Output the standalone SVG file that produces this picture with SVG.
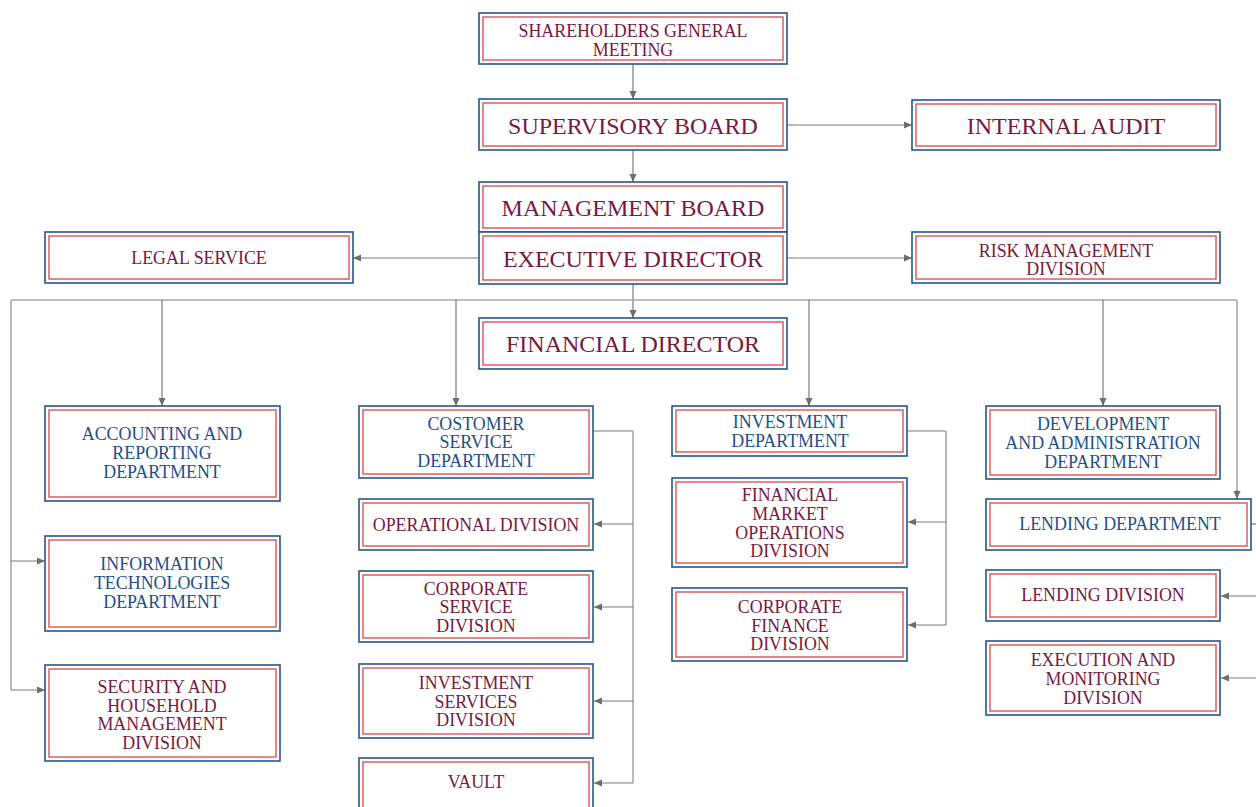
<svg xmlns="http://www.w3.org/2000/svg" width="1256" height="807" viewBox="0 0 1256 807">
<style>
.o{fill:#fff;stroke:#26558f;stroke-width:1.6}
.i{fill:none;stroke:#d9555a;stroke-width:1.4}
.t{font-family:"Liberation Serif","Times New Roman",serif;text-anchor:middle;fill:#7a1840}
.b{fill:#1f4f8a}
.s{font-size:17.9px}
.l{font-size:24px}
.c{fill:none;stroke:#7a7a7a;stroke-width:1.2}
.bus{fill:none;stroke:#a8a8a8;stroke-width:1.6}
</style>
<defs>
<marker id="ar" markerUnits="userSpaceOnUse" markerWidth="9" markerHeight="8" refX="8" refY="4" orient="auto">
<path d="M0,0.5 L8,4 L0,7.5 z" fill="#6e6e6e"/>
</marker>
</defs>
<rect width="1256" height="807" fill="#fff"/>
<g id="connectors">
<path class="c" d="M633,64 V99" marker-end="url(#ar)"/>
<path class="c" d="M633,150 V182" marker-end="url(#ar)"/>
<path class="c" d="M787,125 H912" marker-end="url(#ar)"/>
<path class="c" d="M479,258 H353" marker-end="url(#ar)"/>
<path class="c" d="M787,258 H912" marker-end="url(#ar)"/>
<path class="c" d="M633,284 V318" marker-end="url(#ar)"/>
<path class="bus" d="M11,300 H1237"/>
<path class="bus" d="M11,300 V690"/>
<path class="c" d="M11,561 H45" marker-end="url(#ar)"/>
<path class="c" d="M11,690 H45" marker-end="url(#ar)"/>
<path class="c" d="M162,300 V406" marker-end="url(#ar)"/>
<path class="c" d="M456,300 V406" marker-end="url(#ar)"/>
<path class="c" d="M809,300 V406" marker-end="url(#ar)"/>
<path class="c" d="M1103,300 V406" marker-end="url(#ar)"/>
<path class="bus" d="M1237,300 V492"/>
<path class="c" d="M1237,490 V499" marker-end="url(#ar)"/>
<path class="c" d="M593,431 H633"/>
<path class="bus" d="M633,431 V783"/>
<path class="c" d="M633,524 H594" marker-end="url(#ar)"/>
<path class="c" d="M633,607 H594" marker-end="url(#ar)"/>
<path class="c" d="M633,701 H594" marker-end="url(#ar)"/>
<path class="c" d="M633,783 H594" marker-end="url(#ar)"/>
<path class="c" d="M907,431 H946"/>
<path class="bus" d="M946,431 V625"/>
<path class="c" d="M946,522 H908" marker-end="url(#ar)"/>
<path class="c" d="M946,625 H908" marker-end="url(#ar)"/>
<path class="c" d="M1251,524 H1262"/>
<path class="c" d="M1262,596 H1221" marker-end="url(#ar)"/>
<path class="c" d="M1262,678 H1221" marker-end="url(#ar)"/>
</g>
<g id="shareholders"><rect class="o" x="479" y="13" width="308" height="51"/><rect class="i" x="483" y="17" width="300" height="43"/><text class="t s" x="633" y="37">SHAREHOLDERS GENERAL</text><text class="t s" x="633" y="56">MEETING</text></g>
<g id="supervisory"><rect class="o" x="479" y="99" width="308" height="51"/><rect class="i" x="483" y="103" width="300" height="43"/><text class="t l" x="633" y="134">SUPERVISORY BOARD</text></g>
<g id="audit"><rect class="o" x="912" y="100" width="308" height="50"/><rect class="i" x="916" y="104" width="300" height="42"/><text class="t l" x="1066" y="134">INTERNAL AUDIT</text></g>
<g id="management"><rect class="o" x="479" y="182" width="308" height="50"/><rect class="i" x="483" y="186" width="300" height="42"/><text class="t l" x="633" y="216">MANAGEMENT BOARD</text></g>
<g id="executive"><rect class="o" x="479" y="232" width="308" height="52"/><rect class="i" x="483" y="236" width="300" height="44"/><text class="t l" x="633" y="267">EXECUTIVE DIRECTOR</text></g>
<g id="legal"><rect class="o" x="45" y="232" width="308" height="51"/><rect class="i" x="49" y="236" width="300" height="43"/><text class="t s" x="199" y="264">LEGAL SERVICE</text></g>
<g id="risk"><rect class="o" x="912" y="232" width="308" height="51"/><rect class="i" x="916" y="236" width="300" height="43"/><text class="t s" x="1066" y="257">RISK MANAGEMENT</text><text class="t s" x="1066" y="275">DIVISION</text></g>
<g id="financial"><rect class="o" x="479" y="318" width="308" height="51"/><rect class="i" x="483" y="322" width="300" height="43"/><text class="t l" x="633" y="352">FINANCIAL DIRECTOR</text></g>
<g id="accounting"><rect class="o" x="45" y="406" width="235" height="95"/><rect class="i" x="49" y="410" width="227" height="87"/><text class="t s b" x="162" y="440">ACCOUNTING AND</text><text class="t s b" x="162" y="459">REPORTING</text><text class="t s b" x="162" y="478">DEPARTMENT</text></g>
<g id="it"><rect class="o" x="45" y="536" width="235" height="95"/><rect class="i" x="49" y="540" width="227" height="87"/><text class="t s b" x="162" y="570">INFORMATION</text><text class="t s b" x="162" y="589">TECHNOLOGIES</text><text class="t s b" x="162" y="608">DEPARTMENT</text></g>
<g id="security"><rect class="o" x="45" y="665" width="235" height="96"/><rect class="i" x="49" y="669" width="227" height="88"/><text class="t s" x="162" y="693">SECURITY AND</text><text class="t s" x="162" y="712">HOUSEHOLD</text><text class="t s" x="162" y="730">MANAGEMENT</text><text class="t s" x="162" y="749">DIVISION</text></g>
<g id="customer"><rect class="o" x="359" y="406" width="234" height="72"/><rect class="i" x="363" y="410" width="226" height="64"/><text class="t s b" x="476" y="430">COSTOMER</text><text class="t s b" x="476" y="448">SERVICE</text><text class="t s b" x="476" y="467">DEPARTMENT</text></g>
<g id="operational"><rect class="o" x="359" y="499" width="234" height="51"/><rect class="i" x="363" y="503" width="226" height="43"/><text class="t s" x="476" y="531">OPERATIONAL DIVISION</text></g>
<g id="corpservice"><rect class="o" x="359" y="571" width="234" height="71"/><rect class="i" x="363" y="575" width="226" height="63"/><text class="t s" x="476" y="595">CORPORATE</text><text class="t s" x="476" y="613">SERVICE</text><text class="t s" x="476" y="632">DIVISION</text></g>
<g id="invservices"><rect class="o" x="359" y="664" width="234" height="74"/><rect class="i" x="363" y="668" width="226" height="66"/><text class="t s" x="476" y="689">INVESTMENT</text><text class="t s" x="476" y="708">SERVICES</text><text class="t s" x="476" y="726">DIVISION</text></g>
<g id="vault"><rect class="o" x="359" y="758" width="234" height="62"/><rect class="i" x="363" y="762" width="226" height="54"/><text class="t s" x="476" y="788">VAULT</text></g>
<g id="investment"><rect class="o" x="672" y="406" width="235" height="50"/><rect class="i" x="676" y="410" width="227" height="42"/><text class="t s b" x="790" y="428">INVESTMENT</text><text class="t s b" x="790" y="447">DEPARTMENT</text></g>
<g id="finmarket"><rect class="o" x="672" y="478" width="235" height="89"/><rect class="i" x="676" y="482" width="227" height="81"/><text class="t s" x="790" y="501">FINANCIAL</text><text class="t s" x="790" y="520">MARKET</text><text class="t s" x="790" y="539">OPERATIONS</text><text class="t s" x="790" y="557">DIVISION</text></g>
<g id="corpfinance"><rect class="o" x="672" y="588" width="235" height="73"/><rect class="i" x="676" y="592" width="227" height="65"/><text class="t s" x="790" y="613">CORPORATE</text><text class="t s" x="790" y="632">FINANCE</text><text class="t s" x="790" y="650">DIVISION</text></g>
<g id="development"><rect class="o" x="986" y="406" width="234" height="73"/><rect class="i" x="990" y="410" width="226" height="65"/><text class="t s b" x="1103" y="430">DEVELOPMENT</text><text class="t s b" x="1103" y="449">AND ADMINISTRATION</text><text class="t s b" x="1103" y="468">DEPARTMENT</text></g>
<g id="lendingdept"><rect class="o" x="986" y="499" width="265" height="51"/><rect class="i" x="990" y="503" width="257" height="43"/><text class="t s b" x="1120" y="530">LENDING DEPARTMENT</text></g>
<g id="lendingdiv"><rect class="o" x="986" y="570" width="234" height="51"/><rect class="i" x="990" y="574" width="226" height="43"/><text class="t s" x="1103" y="601">LENDING DIVISION</text></g>
<g id="execution"><rect class="o" x="986" y="641" width="234" height="74"/><rect class="i" x="990" y="645" width="226" height="66"/><text class="t s" x="1103" y="666">EXECUTION AND</text><text class="t s" x="1103" y="685">MONITORING</text><text class="t s" x="1103" y="704">DIVISION</text></g>
</svg>
